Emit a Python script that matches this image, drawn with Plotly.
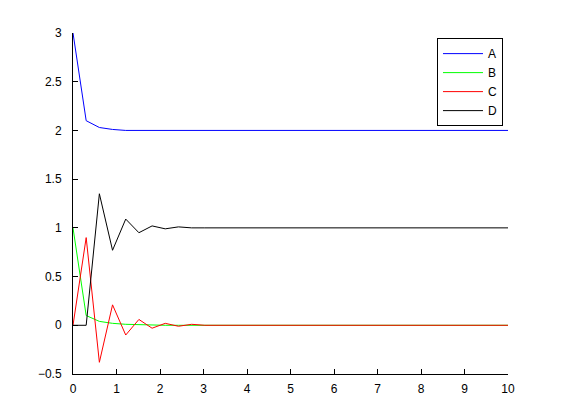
import plotly.graph_objects as go

# time samples (34 points over 0..10)
t = [0, 0.303, 0.606, 0.909, 1.212, 1.515, 1.818, 2.121, 2.424, 2.727,
     3.030, 3.333, 3.636, 3.939, 4.242, 4.545, 4.848, 5.152, 5.455, 5.758,
     6.061, 6.364, 6.667, 6.970, 7.273, 7.576, 7.879, 8.182, 8.485, 8.788,
     9.091, 9.394, 9.697, 10.0]

series_a = [3.0, 2.10, 2.03, 2.01, 2.0, 2.0, 2.0, 2.0, 2.0, 2.0,
            2.0, 2.0, 2.0, 2.0, 2.0, 2.0, 2.0, 2.0, 2.0, 2.0,
            2.0, 2.0, 2.0, 2.0, 2.0, 2.0, 2.0, 2.0, 2.0, 2.0,
            2.0, 2.0, 2.0, 2.0]
series_b = [1.0, 0.10, 0.04, 0.02, 0.01, 0.005, 0.0, 0.0, 0.0, 0.0,
            0.0, 0.0, 0.0, 0.0, 0.0, 0.0, 0.0, 0.0, 0.0, 0.0,
            0.0, 0.0, 0.0, 0.0, 0.0, 0.0, 0.0, 0.0, 0.0, 0.0,
            0.0, 0.0, 0.0, 0.0]
series_c = [0.0, 0.90, -0.38, 0.21, -0.10, 0.06, -0.03, 0.02, -0.01, 0.01,
            0.0, 0.0, 0.0, 0.0, 0.0, 0.0, 0.0, 0.0, 0.0, 0.0,
            0.0, 0.0, 0.0, 0.0, 0.0, 0.0, 0.0, 0.0, 0.0, 0.0,
            0.0, 0.0, 0.0, 0.0]
series_d = [0.0, 0.0, 1.35, 0.77, 1.09, 0.95, 1.02, 0.99, 1.01, 1.0,
            1.0, 1.0, 1.0, 1.0, 1.0, 1.0, 1.0, 1.0, 1.0, 1.0,
            1.0, 1.0, 1.0, 1.0, 1.0, 1.0, 1.0, 1.0, 1.0, 1.0,
            1.0, 1.0, 1.0, 1.0]

names = ['A', 'B', 'C', 'D']
colors = ['#0000ff', '#00ff00', '#ff0000', '#000000']

fig = go.Figure()
for name, ys, col in zip(names, [series_a, series_b, series_c, series_d], colors):
    fig.add_trace(go.Scatter(x=t, y=ys, mode='lines', name=name,
                             line=dict(color=col, width=1)))

axis_style = dict(showline=True, linecolor='black', linewidth=1, mirror=False,
                  ticks='inside', ticklen=5, tickcolor='black', showgrid=False,
                  zeroline=False, tickfont=dict(size=12, color='black'))

fig.update_xaxes(range=[0, 10], dtick=1, ticklabelstandoff=4, **axis_style)
fig.update_yaxes(range=[-0.5, 3], dtick=0.5, ticklabelstandoff=8, **axis_style)

# page body has an 8px margin, so the margins are shifted to compensate
fig.update_layout(
    width=561, height=420,
    margin=dict(l=65, r=61, t=25, b=54),
    paper_bgcolor='white', plot_bgcolor='white',
    font=dict(family='Liberation Sans, Arial, sans-serif', color='black'),
    legend=dict(x=0.9885, y=0.985, xanchor='right', yanchor='top',
                bgcolor='white', bordercolor='black', borderwidth=1,
                itemwidth=40, font=dict(size=12)),
)

fig.write_html("out.html")
